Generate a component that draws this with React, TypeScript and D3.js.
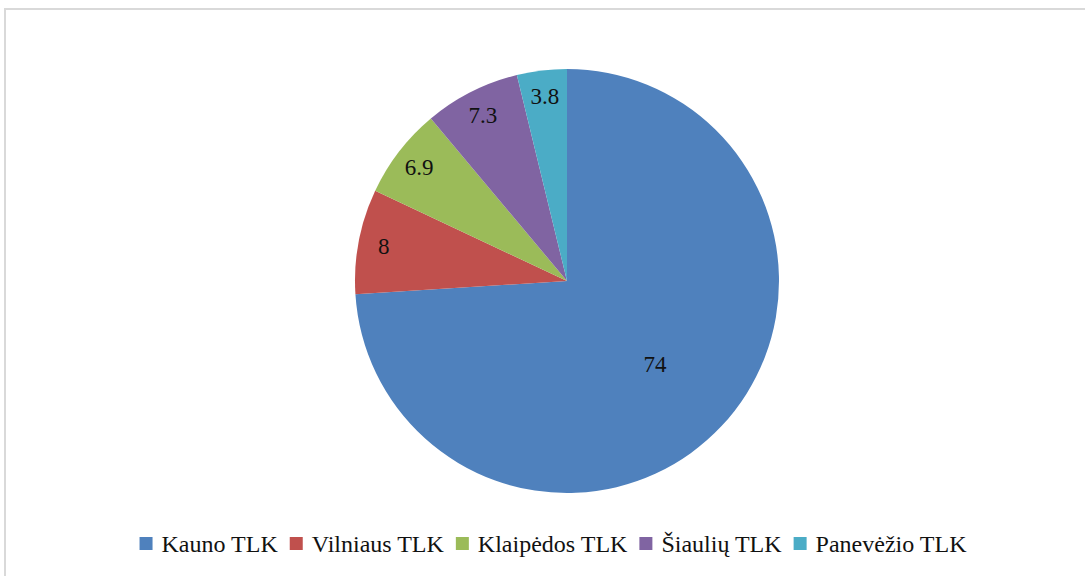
import React, { useEffect, useRef } from "react";
import * as d3 from "d3";

const categories = ["Kauno TLK", "Vilniaus TLK", "Klaipėdos TLK", "Šiaulių TLK", "Panevėžio TLK"];
const values = [74, 8, 6.9, 7.3, 3.8];
const labels = ["74", "8", "6.9", "7.3", "3.8"];
const colors = ["#4F81BD", "#C0504D", "#9BBB59", "#8064A2", "#4BACC6"];

const W = 1085;
const H = 576;
const FONT = "'Liberation Serif', 'Times New Roman', serif";

export default function App() {
  const ref = useRef<SVGSVGElement>(null);

  useEffect(() => {
    const svg = d3.select(ref.current);
    svg.selectAll("*").remove();

    svg.append("rect").attr("x", 0).attr("y", 0).attr("width", W).attr("height", H).attr("fill", "#fff");
    svg.append("rect")
      .attr("x", 5).attr("y", 9).attr("width", W + 20).attr("height", H + 20)
      .attr("fill", "none").attr("stroke", "#d9d9d9").attr("stroke-width", 2);

    const cx = 567, cy = 281, r = 212;
    const pie = d3.pie<number>().sort(null).value((d) => d);
    const arcs = pie(values);
    const arc = d3.arc<d3.PieArcDatum<number>>().innerRadius(0).outerRadius(r);
    const g = svg.append("g").attr("transform", `translate(${cx},${cy})`);
    g.selectAll("path").data(arcs).enter().append("path")
      .attr("d", arc as any)
      .attr("fill", (_d, i) => colors[i]);

    g.selectAll("text").data(arcs).enter().append("text")
      .attr("transform", (d) => {
        const frac = (d.endAngle - d.startAngle) / (2 * Math.PI);
        const lr = frac > 0.5 ? r * 0.57 : r * 0.88;
        const a = (d.startAngle + d.endAngle) / 2;
        return `translate(${Math.sin(a) * lr},${-Math.cos(a) * lr})`;
      })
      .attr("text-anchor", "middle")
      .attr("dy", "0.35em")
      .style("font-family", FONT)
      .style("font-size", "23px")
      .attr("fill", "#111")
      .text((_d, i) => labels[i]);

    const leg = svg.append("g");
    const items: { g: any; w: number }[] = [];
    const sq = 13, gapText = 9, gapItem = 12;
    categories.forEach((c, i) => {
      const ig = leg.append("g");
      ig.append("rect").attr("x", 0).attr("y", -15).attr("width", sq).attr("height", sq).attr("fill", colors[i]);
      const t = ig.append("text").attr("x", sq + gapText).attr("y", 0)
        .style("font-family", FONT).style("font-size", "24px").attr("fill", "#111").text(c);
      const tw = (t.node() as SVGTextElement).getComputedTextLength();
      items.push({ g: ig, w: sq + gapText + tw });
    });
    const totalW = d3.sum(items, (d) => d.w) + gapItem * (items.length - 1);
    let x = 553 - totalW / 2;
    items.forEach((it) => {
      it.g.attr("transform", `translate(${x},552)`);
      x += it.w + gapItem;
    });
  }, []);

  return (
    <svg ref={ref} width={W} height={H} style={{ position: "fixed", left: 0, top: 0, display: "block" }} />
  );
}
